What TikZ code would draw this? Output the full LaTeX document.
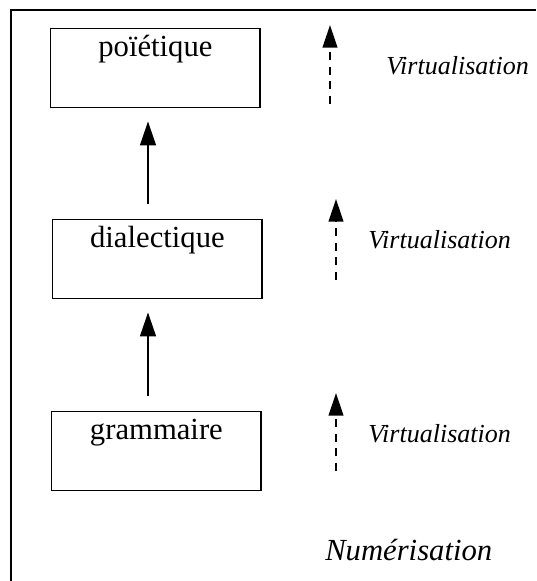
\documentclass[tikz,border=0pt]{standalone}
\usepackage{fontspec}
\setmainfont{Liberation Serif}
\usetikzlibrary{arrows.meta}
\begin{document}
\begin{tikzpicture}[x=0.75pt, y=-0.75pt,
        stage/.style={draw, line width=1.1pt, anchor=north west, inner sep=0pt,
            minimum width=157pt, text height=21pt, text depth=38pt,
            font=\fontsize{23}{26}\selectfont},
        flow/.style={-{Triangle[width=12pt,length=18pt]}, line width=1.1pt},
        virt/.style={-{Triangle[width=11pt,length=17pt]}, line width=1.5pt,
            dash pattern=on 6pt off 5pt},
        tag/.style={anchor=base west, inner sep=0pt,
            font=\fontsize{19.5}{22}\selectfont\itshape}]
        \useasboundingbox (0,0) rectangle (536,581);
        \draw[line width=1.5pt] (11,581) -- (11,10) -- (536,10);
        \node[stage] (poi) at (50,28) {poïétique};
        \node[stage] (dia) at (52,219) {dialectique};
        \node[stage] (gram) at (51,411) {grammaire};
        \coordinate (axis) at (148,0);
        \draw[flow, shorten <=11pt, shorten >=10pt] (dia.north -| axis) -- (poi.south -| axis);
        \draw[flow, shorten <=11pt, shorten >=10pt] (gram.north -| axis) -- (dia.south -| axis);
        \coordinate (v1foot) at (330,104);
        \coordinate (v1tip) at (330,25);
        \coordinate (v2foot) at (336,280);
        \coordinate (v2tip) at (336,199);
        \coordinate (v3foot) at (336,471);
        \coordinate (v3tip) at (336,393);
        \draw[virt] (v1foot) -- (v1tip);
        \draw[virt] (v2foot) -- (v2tip);
        \draw[virt] (v3foot) -- (v3tip);
        \node[tag] (virt1) at (386,75) {Virtualisation};
        \node[tag] (virt2) at (368,248) {Virtualisation};
        \node[tag] (virt3) at (368,442) {Virtualisation};
        \node[tag, font=\fontsize{23}{26}\selectfont\itshape] (num) at (325,560) {Numérisation};
    \end{tikzpicture}
\end{document}
